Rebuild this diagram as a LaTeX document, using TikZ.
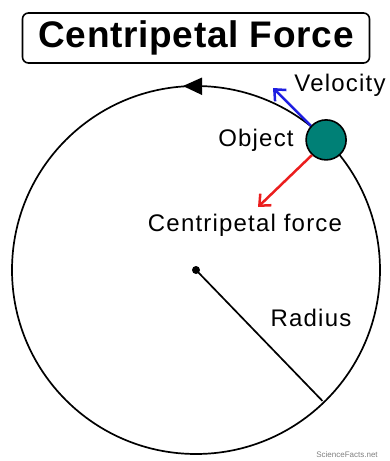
\documentclass[tikz,border=0pt]{standalone}
\usepackage{fontspec}
\setmainfont{Liberation Sans}
\usetikzlibrary{arrows.meta}
\definecolor{objteal}{RGB}{0,128,118}
\definecolor{velblue}{RGB}{30,30,225}
\definecolor{forcered}{RGB}{235,30,30}

\begin{document}
\begin{tikzpicture}[x=1pt,y=-1pt,every node/.style={font=\fontsize{24}{28}\selectfont\addfontfeatures{LetterSpace=5}},
  vecarrow/.style={line width=2.5pt,-{Straight Barb[length=9pt,width=16pt,line width=2.5pt]}}]
  \useasboundingbox (0,0) rectangle (390,461);
  \coordinate (O) at (196,270);
  \draw[line width=1.7pt] (O) circle (184);
  \fill (O) circle (4);
  \fill (183,86) -- (202,77.5) -- (202,95) -- cycle;
  \draw[line width=1.7pt] (O) -- ([shift={(46:182)}]O) coordinate (R);
  \node[draw,rounded corners=6pt,line width=1.6pt,minimum width=347pt,minimum height=50pt,font=\fontsize{37}{40}\selectfont\bfseries\addfontfeatures{LetterSpace=2}] (title) at (196,38) {Centripetal Force};
  \node[circle,draw,line width=1.6pt,fill=objteal,minimum size=40pt,inner sep=0pt] (obj) at ([shift={(-45:184)}]O) {};
  \coordinate (vtip) at (273,88); \coordinate (ftip) at (258,207);
  \draw[vecarrow,velblue] (obj.137) -- (vtip);
  \draw[vecarrow,forcered] (obj.227) -- (ftip);
  \node (vel) at (340,85) {Velocity};
  \node (objlbl) at (256,140) {Object};
  \node (cf) at (245,225) {Centripetal force};
  \node (rad) at (311,318) {Radius};
  \node[font=\fontsize{8}{9}\selectfont,gray] (wm) at (347,455) {ScienceFacts.net};
\end{tikzpicture}
\end{document}
